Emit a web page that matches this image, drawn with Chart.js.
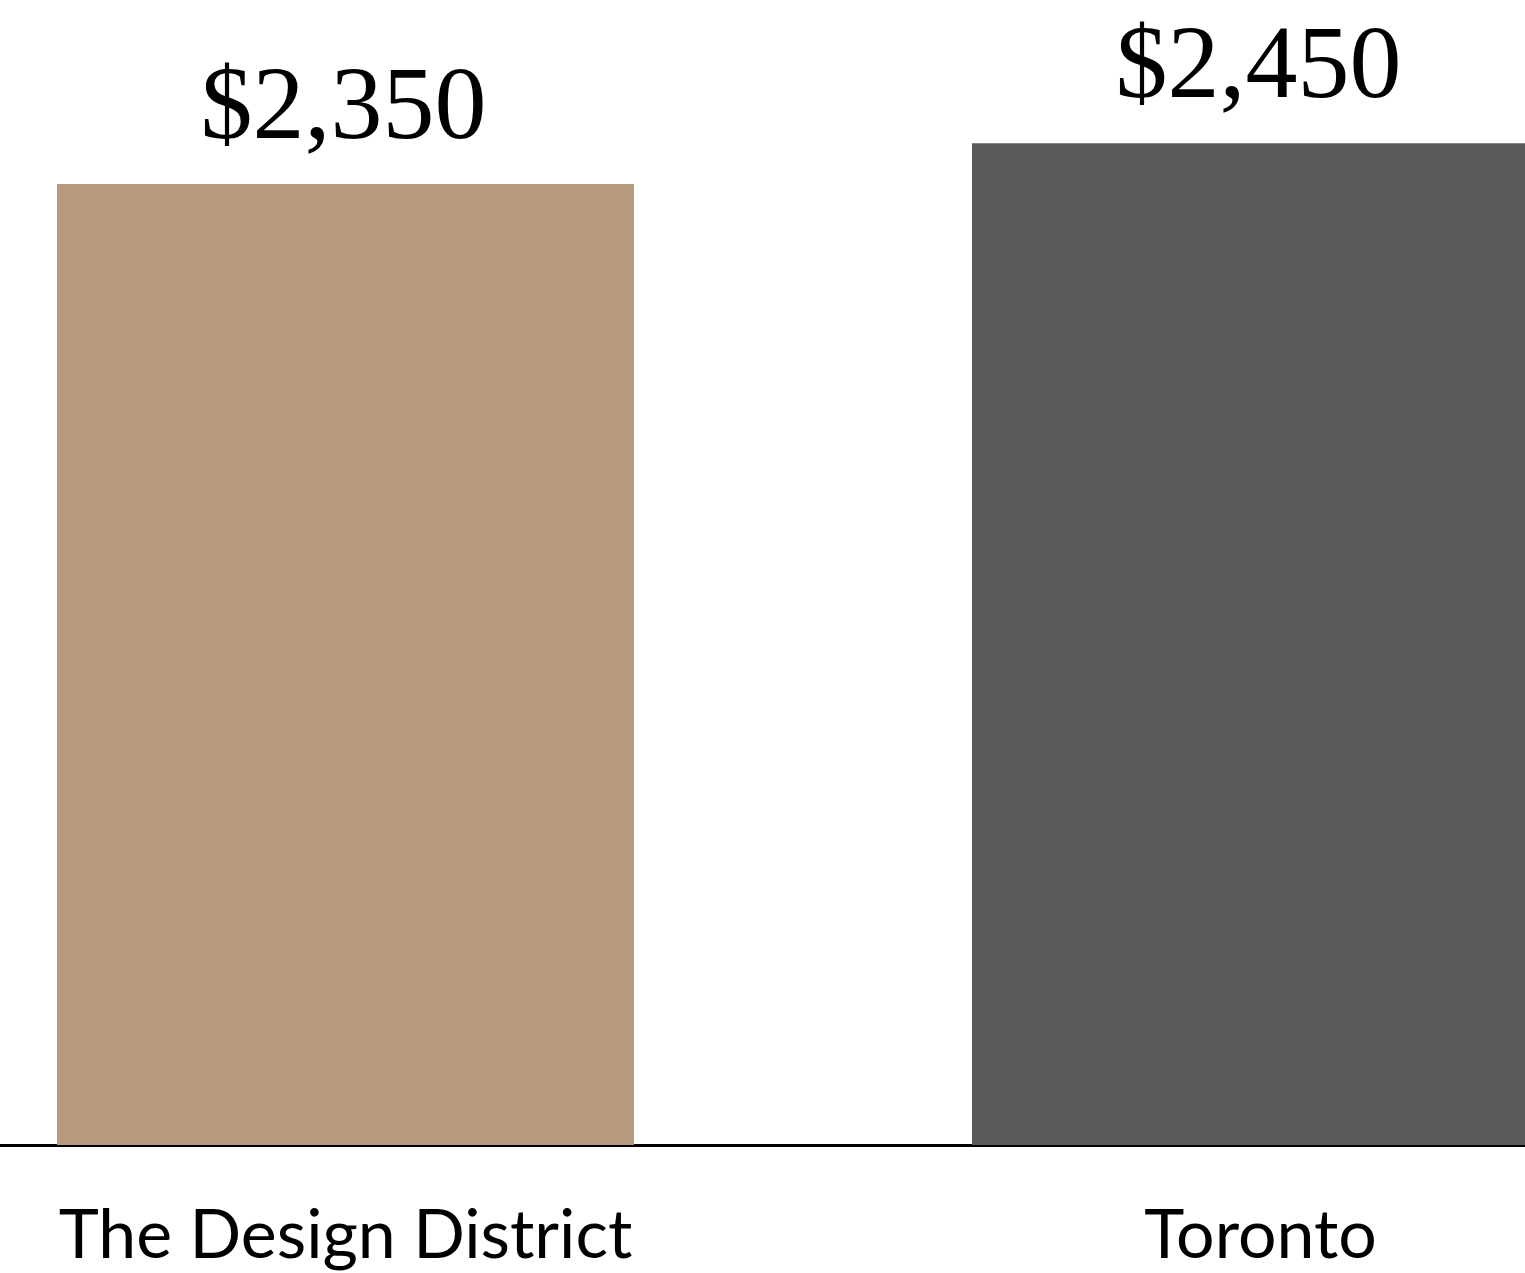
<!DOCTYPE html>
<html>
<head>
<meta charset="utf-8">
<script src="https://cdn.jsdelivr.net/npm/chart.js@4.4.1/dist/chart.umd.min.js"></script>
<style>
  html, body { margin: 0; padding: 0; width: 1525px; height: 1273px; overflow: hidden; background: #ffffff; }
  #wrap { position: absolute; left: -112px; top: 0; width: 1830px; height: 1273px; }
</style>
</head>
<body>
<div id="wrap"><canvas id="c"></canvas></div>
<script>
const categories = ["The Design District", "Toronto"];
const rentValues = [2350, 2450];
const barColors = ["#B59B7C", "#5A5A5A"];
const valueLabels = ["$2,350", "$2,450"];

const valueLabelPlugin = {
  id: "valueLabels",
  afterDatasetsDraw(chart) {
    const ctx = chart.ctx;
    const meta = chart.getDatasetMeta(0);
    ctx.save();
    ctx.font = "104px 'Liberation Serif', 'DejaVu Serif', serif";
    ctx.fillStyle = "#000000";
    ctx.textAlign = "center";
    ctx.textBaseline = "alphabetic";
    meta.data.forEach((bar, i) => {
      ctx.fillText(valueLabels[i], bar.x - 2, bar.y - 46);
    });
    ctx.restore();
  }
};

new Chart(document.getElementById("c"), {
  type: "bar",
  data: {
    labels: categories,
    datasets: [{
      data: rentValues,
      backgroundColor: barColors,
      borderWidth: 0,
      barPercentage: 0.6306,
      categoryPercentage: 1.0
    }]
  },
  options: {
    responsive: true,
    maintainAspectRatio: false,
    animation: false,
    layout: { padding: 0 },
    plugins: { legend: { display: false }, tooltip: { enabled: false } },
    scales: {
      x: {
        z: 1,
        grid: { display: false, drawTicks: false },
        border: { display: true, color: "#000000", width: 3 },
        ticks: {
          color: "#000000",
          padding: 50,
          maxRotation: 0,
          autoSkip: false,
          font: { family: "Lato, 'Open Sans', sans-serif", size: 68 }
        },
        afterFit(scale) { scale.height = 128; }
      },
      y: {
        display: false,
        min: 0,
        max: 2800
      }
    }
  },
  plugins: [valueLabelPlugin]
});
</script>
</body>
</html>
